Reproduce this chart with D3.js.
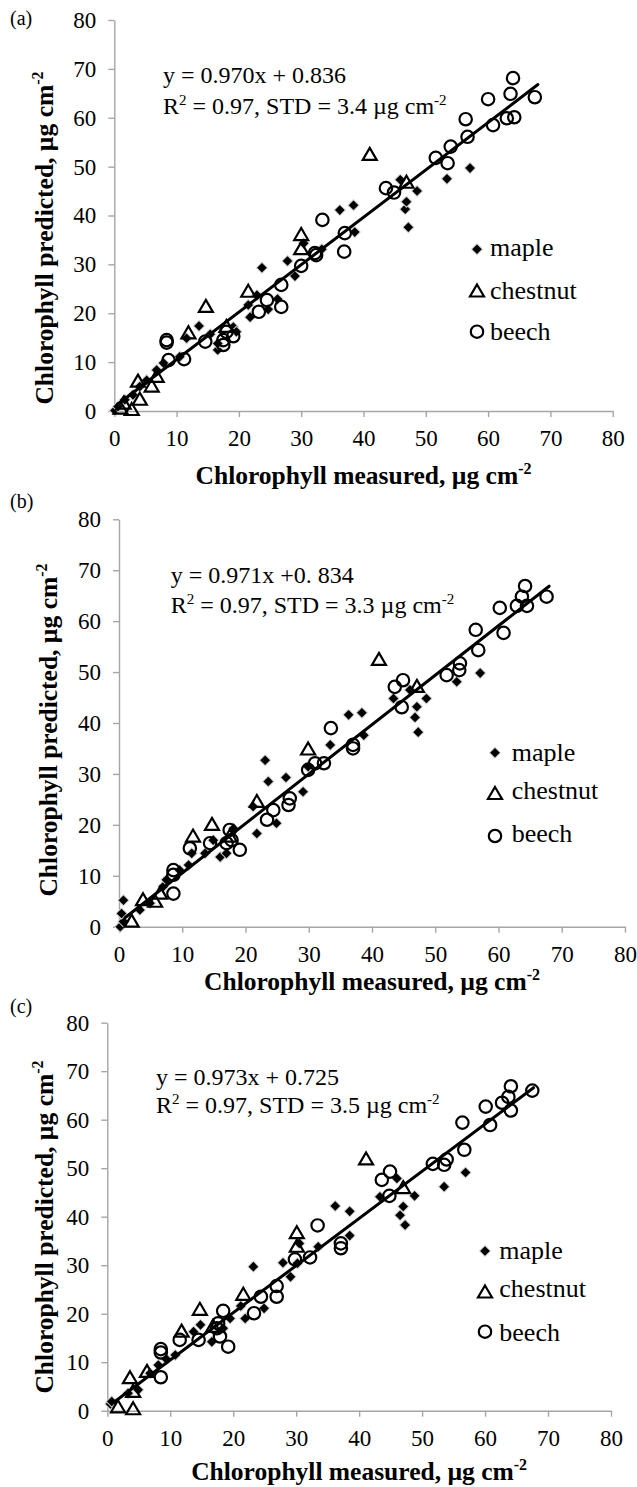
<!DOCTYPE html>
<html><head><meta charset="utf-8">
<script src="https://cdn.jsdelivr.net/npm/d3@7"></script>
<style>body{margin:0;background:#fff}svg{display:block}</style>
</head><body>
<script>
// ---------- DATA ----------
const tickValues = [0,10,20,30,40,50,60,70,80];
const panelLabels = ["(a)","(b)","(c)"];
const seriesNames = ["maple","chestnut","beech"];
const eqLine1 = ["y = 0.970x + 0.836","y = 0.971x +0. 834","y = 0.973x + 0.725"];
const eqStd = ["3.4","3.3","3.5"];
const fitSlope = [0.970,0.971,0.973];
const fitIntercept = [0.836,0.834,0.725];
const fitStart = [0.5,1.0,1.0];
const fitEnd = [68.0,68.0,67.7];

const mapleA = [[0.1,0.1],[0.6,0.9],[1.7,2.3],[3.0,3.3],[4.1,5.0],[5.2,6.3],[6.8,8.4],[7.9,9.8],[10.5,11.1],[11.6,14.9],[13.6,17.4],[15.4,15.7],[16.6,12.5],[16.6,13.8],[19.1,17.2],[19.6,16.2],[21.5,21.7],[21.8,19.2],[22.9,23.7],[23.7,29.3],[24.7,20.8],[26.2,22.9],[27.8,30.7],[29.0,27.6],[30.4,34.3],[33.3,33.1],[36.2,41.1],[38.4,42.1],[38.6,36.6],[45.9,47.3],[46.7,41.3],[46.9,42.8],[47.2,37.6],[48.6,45.0],[53.4,47.5],[57.1,49.7]];
const chestnutA = [[1.0,0.5],[1.5,1.5],[2.8,0.2],[3.8,6.0],[4.1,2.3],[6.0,5.0],[6.8,7.0],[11.9,15.9],[14.7,21.3],[18.0,17.2],[21.5,24.4],[30.0,33.1],[30.0,36.0],[41.0,52.4],[46.9,46.7]];
const beechA = [[8.4,14.5],[8.4,14.0],[8.7,10.4],[11.2,10.6],[14.6,14.2],[17.5,14.5],[17.5,13.5],[18.0,16.2],[19.1,15.3],[23.2,20.3],[24.5,22.7],[26.8,21.3],[26.8,25.8],[30.0,29.7],[32.2,32.3],[32.4,31.9],[33.4,39.1],[36.9,32.6],[37.0,36.4],[43.6,45.6],[44.9,44.7],[51.6,51.8],[53.5,50.7],[54.0,54.1],[56.4,59.7],[56.7,56.1],[60.0,63.8],[60.8,58.5],[63.0,59.9],[63.6,64.9],[64.0,68.1],[64.2,60.1],[67.5,64.2]];

const mapleB = [[0.2,0.0],[0.7,1.0],[0.4,2.6],[0.7,5.2],[3.3,3.3],[4.9,4.6],[7.0,7.9],[7.5,9.2],[9.6,11.1],[11.0,12.1],[11.5,14.4],[13.6,14.4],[14.9,17.0],[16.0,13.7],[17.0,14.4],[18.1,19.3],[21.2,23.6],[21.8,18.3],[23.1,32.7],[23.6,28.5],[24.9,20.3],[26.4,29.3],[29.1,26.5],[29.9,31.4],[33.4,35.7],[36.3,41.6],[38.4,42.0],[38.7,37.6],[43.4,44.8],[46.0,46.5],[46.8,41.1],[47.1,43.2],[47.3,38.2],[48.6,44.8],[53.4,48.1],[57.1,49.8]];
const chestnutB = [[2.0,1.0],[3.8,5.2],[5.7,4.9],[6.5,6.5],[11.7,17.7],[14.7,20.0],[17.5,17.7],[21.8,24.5],[29.9,34.8],[41.1,52.4],[47.1,47.1]];
const beechB = [[8.6,11.1],[8.6,10.2],[8.6,6.5],[11.2,15.4],[14.4,16.4],[17.0,16.4],[17.5,19.0],[17.8,17.0],[19.1,15.1],[23.4,21.0],[24.4,22.9],[26.8,23.9],[27.0,25.2],[29.9,30.8],[31.0,32.1],[32.4,32.1],[33.5,39.0],[37.0,35.7],[37.0,35.0],[43.6,47.1],[44.7,43.1],[44.9,48.4],[51.8,49.4],[53.8,50.4],[53.9,51.7],[56.4,58.3],[56.8,54.3],[60.2,62.6],[60.8,57.7],[62.9,63.0],[63.7,64.8],[64.2,66.9],[64.5,63.0],[67.6,64.8]];

const mapleC = [[0.5,1.4],[0.7,1.9],[3.3,3.6],[4.9,4.3],[6.8,7.7],[8.1,9.4],[9.4,10.6],[10.8,11.5],[13.7,16.3],[14.8,17.7],[16.6,14.2],[18.4,17.0],[19.5,19.0],[21.2,21.6],[21.9,19.0],[23.2,29.7],[24.9,21.1],[27.9,30.5],[29.1,27.6],[30.2,30.4],[30.5,34.5],[33.5,33.8],[36.2,42.2],[38.5,41.1],[38.5,36.1],[43.3,44.1],[46.0,47.9],[46.5,40.3],[47.0,42.1],[47.3,38.3],[48.8,44.3],[53.5,46.2],[56.9,49.1]];
const chestnutC = [[1.7,0.7],[3.6,6.7],[4.1,3.9],[4.1,0.3],[6.3,8.0],[11.8,16.3],[14.7,20.8],[16.8,17.3],[21.6,23.9],[30.1,33.8],[30.1,36.6],[41.1,51.8],[47.0,45.9]];
const beechC = [[8.5,12.7],[8.5,12.0],[8.5,6.9],[11.5,14.6],[14.5,14.6],[17.4,17.0],[17.6,18.0],[17.9,15.3],[18.4,20.6],[19.2,13.2],[23.3,20.1],[24.4,23.5],[26.9,23.5],[26.9,25.7],[29.8,31.2],[32.2,31.6],[33.4,38.2],[37.1,33.5],[37.1,34.5],[43.6,47.6],[44.8,44.3],[44.9,49.3],[51.7,50.9],[53.5,50.7],[53.9,51.8],[56.4,59.4],[56.7,53.8],[60.1,62.7],[60.8,58.9],[62.7,63.5],[63.7,64.7],[64.1,66.9],[64.1,61.9],[67.5,66.0]];

// ---------- LAYOUT ----------
const FONT = "'Liberation Serif','Times New Roman',Times,serif";
const layouts = [
  {x0:114.3,x1:612.7,y0:411,y1:20, labelY:25, eqX:163, eqY:[83,114],
   legMX:477, legTX:490, legMY:[249.3,291.5,331.7], legTY:[256,299,340],
   xTitleY:484, yTitleX:53, yTitleCY:238},
  {x0:119,x1:625,y0:926.7,y1:519.3, labelY:508, eqX:170.7, eqY:[583,612.7],
   legMX:495, legTX:511.7, legMY:[752.7,794,836], legTY:[761,799.3,841.7],
   xTitleY:990, yTitleX:57, yTitleCY:730},
  {x0:107.3,x1:611,y0:1410.7,y1:1022.7, labelY:1013, eqX:156, eqY:[1085,1113],
   legMX:485, legTX:499.3, legMY:[1251,1292.5,1331.7], legTY:[1259.3,1296.7,1340.7],
   xTitleY:1480, yTitleX:53, yTitleCY:1227}
];
const seriesData = [[mapleA,chestnutA,beechA],[mapleB,chestnutB,beechB],[mapleC,chestnutC,beechC]];

const svg = d3.select("body").append("svg").attr("width",637).attr("height",1487)
  .style("font-family",FONT);
svg.append("rect").attr("width",637).attr("height",1487).attr("fill","#fff");

const diamondPath = r => `M0,${-r}L${r},0L0,${r}L${-r},0Z`;
const trianglePath = "M0,-7L7,5L-7,5Z";

function drawMarker(g, type, x, y){
  if(type===0){
    g.append("path").attr("d",diamondPath(6.2)).attr("transform",`translate(${x},${y})`).attr("fill","#cfcfcf");
    g.append("path").attr("d",diamondPath(4.8)).attr("transform",`translate(${x},${y})`).attr("fill","#000");
  } else if(type===1){
    g.append("path").attr("d",trianglePath).attr("transform",`translate(${x},${y})`)
      .attr("fill","none").attr("stroke","#000").attr("stroke-width",2.2).attr("stroke-linejoin","miter");
  } else {
    g.append("circle").attr("cx",x).attr("cy",y).attr("r",6.2)
      .attr("fill","none").attr("stroke","#000").attr("stroke-width",2.2);
  }
}

layouts.forEach((L,i)=>{
  const g = svg.append("g");
  const x = d3.scaleLinear().domain([0,80]).range([L.x0,L.x1]);
  const y = d3.scaleLinear().domain([0,80]).range([L.y0,L.y1]);

  // axes
  const xa = g.append("g").attr("transform",`translate(0,${L.y0})`)
    .call(d3.axisBottom(x).tickValues(tickValues).tickSize(6).tickSizeOuter(0).tickPadding(13).tickFormat(d3.format("d")));
  const ya = g.append("g").attr("transform",`translate(${L.x0},0)`)
    .call(d3.axisLeft(y).tickValues(tickValues).tickSize(6).tickSizeOuter(0).tickPadding(12).tickFormat(d3.format("d")));
  [xa,ya].forEach(a=>{
    a.attr("font-family",null).attr("font-size",null);
    a.select(".domain").attr("stroke","#a6a6a6").attr("stroke-width",1.4);
    a.selectAll(".tick line").attr("stroke","#a6a6a6").attr("stroke-width",1.4);
    a.selectAll("text").attr("fill","#000").style("font-family",FONT).attr("font-size",23);
  });

  // points
  const pts = g.append("g");
  seriesData[i].forEach((arr,s)=>{
    arr.forEach(d=>drawMarker(pts, s, x(d[0]), y(d[1])));
  });

  // regression line
  g.append("line")
    .attr("x1",x(fitStart[i])).attr("y1",y(fitSlope[i]*fitStart[i]+fitIntercept[i]))
    .attr("x2",x(fitEnd[i])).attr("y2",y(fitSlope[i]*fitEnd[i]+fitIntercept[i]))
    .attr("stroke","#000").attr("stroke-width",3).attr("stroke-linecap","round");

  // panel label
  g.append("text").attr("x",10).attr("y",L.labelY).attr("font-size",20).text(panelLabels[i]);

  // equation
  g.append("text").attr("x",L.eqX).attr("y",L.eqY[0]).attr("font-size",24).text(eqLine1[i]);
  const t2 = g.append("text").attr("x",L.eqX).attr("y",L.eqY[1]).attr("font-size",24);
  t2.append("tspan").text("R");
  t2.append("tspan").attr("font-size",15).attr("dy",-9).text("2");
  t2.append("tspan").attr("dy",9).text(` = 0.97, STD = ${eqStd[i]} µg cm`);
  t2.append("tspan").attr("font-size",15).attr("dy",-9).text("-2");

  // legend
  seriesNames.forEach((n,s)=>{
    drawMarker(g, s, L.legMX, L.legMY[s]);
    g.append("text").attr("x",L.legTX).attr("y",L.legTY[s]).attr("font-size",26).text(n);
  });

  // x title
  const xt = g.append("text").attr("x",(L.x0+L.x1)/2).attr("y",L.xTitleY)
    .attr("text-anchor","middle").attr("font-size",25.5).attr("font-weight","bold");
  xt.append("tspan").text("Chlorophyll measured, µg cm");
  xt.append("tspan").attr("font-size",16).attr("dy",-10).text("-2");

  // y title
  const yt = g.append("text").attr("transform",`translate(${L.yTitleX},${L.yTitleCY}) rotate(-90)`)
    .attr("text-anchor","middle").attr("font-size",25.5).attr("font-weight","bold");
  yt.append("tspan").text("Chlorophyll predicted, µg cm");
  yt.append("tspan").attr("font-size",16).attr("dy",-10).text("-2");
});
</script>
</body></html>
